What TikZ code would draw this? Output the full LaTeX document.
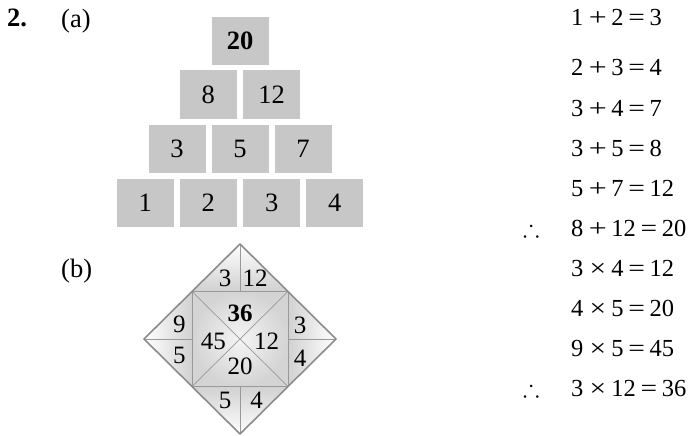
\documentclass[tikz,border=0pt]{standalone}
\usepackage{fontspec}
\usepackage{amssymb}
\setmainfont{Liberation Serif}
\newcommand{\plusop}{\makebox[28pt]{\hspace{1pt}\scalebox{1.3}[1]{+}}}
\newcommand{\timesop}{\makebox[28pt]{\hspace{1pt}\scalebox{1.2}[1]{×}}}
\newcommand{\eqop}{\makebox[26pt]{\scalebox{1.2}[1]{=}}}
\begin{document}
\begin{tikzpicture}[x=1pt,y=-1pt,
  big/.style={font=\fontsize{26.5}{30}\selectfont, inner sep=0pt},
  eqfont/.style={font=\fontsize{24.5}{29}\selectfont, inner sep=0pt},
  dnum/.style={font=\fontsize{25}{29}\selectfont, inner sep=0pt},
  pbox/.style={big, fill=black!22, minimum width=57pt, minimum height=48pt},
  lbl/.style={big, anchor=base west},
  eqn/.style={eqfont, anchor=base west},
  outline/.style={draw=black!45, line width=1.6pt, line join=round},
  inline/.style={draw=black!40, line width=0.9pt}]
\useasboundingbox (0,0) rectangle (688,436);
% labels
\node[lbl] (q) at (7,27) {\textbf{2.}};
\node[lbl] (la) at (61,28) {(a)};
\node[lbl] (lb) at (61,277) {(b)};
% pyramid
\node[pbox] (p41) at (145.3,202.5) {1};
\node[pbox] (p42) at (208.3,202.5) {2};
\node[pbox] (p43) at (271.7,202.5) {3};
\node[pbox] (p44) at (334.7,202.5) {4};
\node[pbox] (p31) at (177,148.5) {3};
\node[pbox] (p32) at (240,148.5) {5};
\node[pbox] (p33) at (303,148.5) {7};
\node[pbox] (p21) at (208.3,94.5) {8};
\node[pbox] (p22) at (271.7,94.5) {12};
\node[pbox] (p11) at (240,41) {\textbf{20}};
% diamond
\coordinate (T) at (240,244);
\coordinate (B) at (240,434);
\coordinate (L) at (144,339);
\coordinate (R) at (336,339);
\coordinate (C) at (240,339);
\coordinate (TL) at (192,291.5);
\coordinate (TR) at (288,291.5);
\coordinate (BL) at (192,386.5);
\coordinate (BR) at (288,386.5);
\coordinate (MT) at (240,291.5);
\coordinate (MB) at (240,386.5);
\coordinate (ML) at (192,339);
\coordinate (MR) at (288,339);
\shade[top color=white, bottom color=black!18] (T) -- (TR) -- (TL) -- cycle;
\shade[top color=black!18, bottom color=white] (B) -- (BR) -- (BL) -- cycle;
\shade[left color=white, right color=black!18] (L) -- (TL) -- (BL) -- cycle;
\shade[left color=black!18, right color=white] (R) -- (TR) -- (BR) -- cycle;
\shade[inner color=black!4, outer color=black!17] (TL) rectangle (BR);
\draw[inline] (TL) rectangle (BR);
\draw[inline, line width=0.7pt] (TL) -- (BR);
\draw[inline, line width=0.7pt] (TR) -- (BL);
\draw[inline] (T) -- (MT);
\draw[inline] (B) -- (MB);
\draw[inline] (L) -- (ML);
\draw[inline] (R) -- (MR);
\draw[outline] (T) -- (R) -- (B) -- (L) -- cycle;
\node[dnum] (d36) at (240,313.3) {\textbf{36}};
\node[dnum] (d45) at (213.3,341.5) {45};
\node[dnum] (d12) at (266.7,341.5) {12};
\node[dnum] (d20) at (240,366.7) {20};
\node[dnum] (t3) at (225,278.3) {3};
\node[dnum] (t12) at (255,278.3) {12};
\node[dnum] (l9) at (179.3,324.3) {9};
\node[dnum] (l5) at (179.3,355.7) {5};
\node[dnum] (r3) at (300,325) {3};
\node[dnum] (r4) at (300,358.3) {4};
\node[dnum] (b5) at (225,400) {5};
\node[dnum] (b4) at (256.7,400) {4};
% equations
\node[eqn] (e1) at (571,26) {1\plusop 2\eqop 3};
\node[eqn] (e2) at (571,76) {2\plusop 3\eqop 4};
\node[eqn] (e3) at (571,116) {3\plusop 4\eqop 7};
\node[eqn] (e4) at (571,156) {3\plusop 5\eqop 8};
\node[eqn] (e5) at (571,196) {5\plusop 7\eqop 12};
\node[eqn] (e6) at (571,236) {8\plusop 12\eqop 20};
\node[eqn] (e7) at (571,276) {3\timesop 4\eqop 12};
\node[eqn] (e8) at (571,316) {4\timesop 5\eqop 20};
\node[eqn] (e9) at (571,356) {9\timesop 5\eqop 45};
\node[eqn] (e10) at (571,396) {3\timesop 12\eqop 36};
\node[eqn] (th1) at (523,236) {$\therefore$};
\node[eqn] (th2) at (523,396) {$\therefore$};
\end{tikzpicture}
\end{document}
